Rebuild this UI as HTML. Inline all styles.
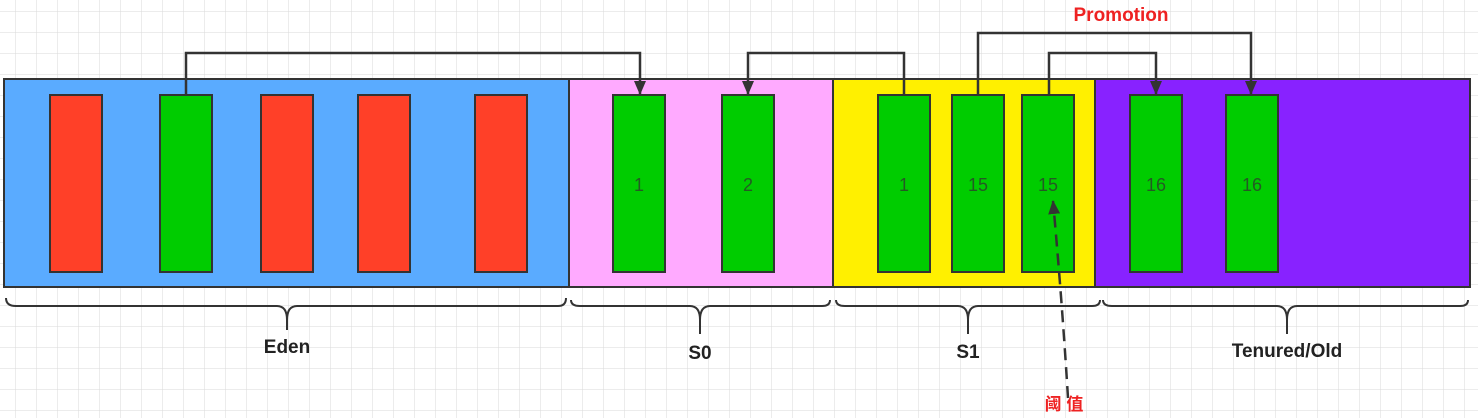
<!DOCTYPE html>
<html><head><meta charset="utf-8"><style>
html,body{margin:0;padding:0;background:#fff}
svg{display:block}
text{font-family:"Liberation Sans","Noto Sans CJK SC",sans-serif}
</style></head><body>
<svg width="1478" height="418" viewBox="0 0 1478 418" xmlns="http://www.w3.org/2000/svg">
<defs>
<pattern id="grid" width="21" height="21" patternUnits="userSpaceOnUse" x="16" y="12">
<path d="M21 0V21M0 21H21" fill="none" stroke="#dadada" stroke-width="1"/>
</pattern>
<marker id="ah" markerWidth="14" markerHeight="12" refX="13" refY="6" orient="auto" markerUnits="userSpaceOnUse" viewBox="0 0 14 12">
<path d="M0 0L14 6L0 12Z" fill="#333"/>
</marker>
</defs>
<rect width="1478" height="418" fill="url(#grid)"/>
<g stroke="#333" stroke-width="2">
<rect x="4" y="79" width="565" height="208" fill="#5aabff"/>
<rect x="569" y="79" width="264" height="208" fill="#ffaaff"/>
<rect x="833" y="79" width="262" height="208" fill="#fff000"/>
<rect x="1095" y="79" width="375" height="208" fill="#8822ff"/>
</g>
<g id="blocks" stroke="#333" stroke-width="2"></g>
<g fill="none" stroke="#333" stroke-width="2.5">
<path d="M186 95V53H640V94" marker-end="url(#ah)"/>
<path d="M904 95V53H748V94" marker-end="url(#ah)"/>
<path d="M978 95V33H1251V94" marker-end="url(#ah)"/>
<path d="M1049 95V53H1156V94" marker-end="url(#ah)"/>
<path d="M1068 398Q1062 300 1053 201" stroke-dasharray="12 7" marker-end="url(#ah)"/>
</g>
<g fill="none" stroke="#333" stroke-width="2">
<path d="M6 298Q6 306 16 306H277Q287 306 287 320V330M287 320Q287 306 297 306H558Q566 306 566 298"/>
<path d="M571 300Q571 306 580 306H690Q700 306 700 320V334M700 320Q700 306 710 306H822Q830 306 830 300"/>
<path d="M836 300Q836 306 845 306H958Q968 306 968 320V334M968 320Q968 306 978 306H1092Q1100 306 1100 300"/>
<path d="M1103 300Q1103 306 1112 306H1277Q1287 306 1287 320V334M1287 320Q1287 306 1297 306H1460Q1468 306 1468 300"/>
</g>
<g font-size="19" font-weight="bold" fill="#222" text-anchor="middle">
<text x="287" y="353">Eden</text>
<text x="700" y="359">S0</text>
<text x="968" y="358">S1</text>
<text x="1287" y="357">Tenured/Old</text>
</g>
<text x="1121" y="21" font-size="19" font-weight="bold" fill="#ee2222" text-anchor="middle">Promotion</text>
<text x="1064" y="410" font-size="17" font-weight="bold" fill="#ee2222" text-anchor="middle">阈 值</text>
<script>
const blockX=[50,160,261,358,475,613,722,878,952,1022,1130,1226];
const blockColor=['#ff4028','#00cc00','#ff4028','#ff4028','#ff4028','#00cc00','#00cc00','#00cc00','#00cc00','#00cc00','#00cc00','#00cc00'];
const blockAge=['','','','','','1','2','1','15','15','16','16'];
const g=document.getElementById('blocks');
const NS='http://www.w3.org/2000/svg';
blockX.forEach((x,i)=>{
 const r=document.createElementNS(NS,'rect');
 r.setAttribute('x',x);r.setAttribute('y',95);r.setAttribute('width',52);r.setAttribute('height',177);
 r.setAttribute('fill',blockColor[i]);
 
 
 g.appendChild(r);
 if(blockAge[i]){
  const t=document.createElementNS(NS,'text');
  t.setAttribute('x',x+26);t.setAttribute('y',191);t.setAttribute('text-anchor','middle');
  t.setAttribute('font-size','18');t.setAttribute('fill','#245a24');t.setAttribute('stroke','none');
  t.textContent=blockAge[i];
  
  
  g.appendChild(t);
 }
});
</script>
</svg>
</body></html>
